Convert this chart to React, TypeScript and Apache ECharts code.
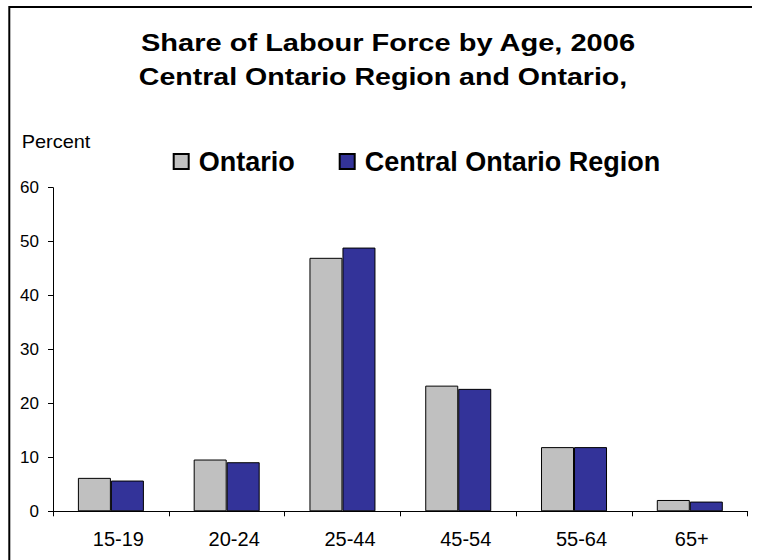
import React, { useEffect, useRef } from "react";
import * as echarts from "echarts";

const categories = ["15-19", "20-24", "25-44", "45-54", "55-64", "65+"];
const ontario = [6.2, 9.6, 47.0, 23.3, 11.9, 2.1];
const central = [5.7, 9.1, 48.9, 22.7, 11.9, 1.8];
const seriesNames = ["Ontario", "Central Ontario Region"];
const titleLines = ["Share of Labour Force by Age, 2006", "Central Ontario Region and Ontario,"];
const yAxisName = "Percent";

export default function App() {
  const ref = useRef<HTMLDivElement>(null);
  useEffect(() => {
    if (!ref.current) return;
    const chart = echarts.init(ref.current, null, { renderer: "svg" });
    const font = '"Liberation Sans", Arial, sans-serif';
    chart.setOption({
      animation: false,
      backgroundColor: "#ffffff",
      textStyle: { fontFamily: font, color: "#000" },
      graphic: [
        {
          type: "polyline",
          shape: { points: [[9.3, 560], [9.3, 7], [752, 7]] },
          style: { fill: "none", stroke: "#000", lineWidth: 2 },
          silent: true,
        },
        {
          type: "text",
          x: 388,
          y: 43,
          scaleX: 1.21,
          style: {
            text: titleLines[0],
            font: `bold 24px ${font}`,
            fill: "#000",
            align: "center",
            verticalAlign: "middle",
          },
        },
        {
          type: "text",
          x: 383,
          y: 76.4,
          scaleX: 1.19,
          style: {
            text: titleLines[1],
            font: `bold 24px ${font}`,
            fill: "#000",
            align: "center",
            verticalAlign: "middle",
          },
        },
        {
          type: "text",
          x: 21.7,
          y: 141.6,
          scaleX: 1.05,
          style: {
            text: yAxisName,
            font: `normal 19px ${font}`,
            fill: "#000",
            align: "left",
            verticalAlign: "middle",
          },
        },
      ],
      legend: {
        left: 172.7,
        top: 146.5,
        padding: 0,
        itemWidth: 15,
        itemHeight: 15,
        itemGap: 44,
        icon: "rect",
        textStyle: {
          fontFamily: font,
          fontSize: 27,
          fontWeight: "bold",
          color: "#000",
          lineHeight: 30,
          padding: [0, 0, 0, 5],
        },
        data: seriesNames,
      },
      grid: { left: 53, right: 9.3, top: 187.7, bottom: 48.7, containLabel: false },
      xAxis: {
        type: "category",
        data: categories,
        axisLine: { lineStyle: { color: "#000", width: 1 } },
        axisTick: { show: true, length: 5, lineStyle: { color: "#000" } },
        axisLabel: {
          color: "#000",
          fontSize: 20,
          margin: 18,
          fontFamily: font,
          formatter: (v: string) => (v === "65+" ? `{b|${v}}` : `{a|${v}}`),
          rich: {
            a: { fontSize: 20, fontFamily: font, color: "#000", padding: [0, 0, 0, 15] },
            b: { fontSize: 20, fontFamily: font, color: "#000", padding: [0, 0, 0, 4] },
          },
        },
      },
      yAxis: {
        type: "value",
        min: 0,
        max: 60,
        interval: 10,
        axisLine: { show: true, lineStyle: { color: "#000", width: 1 } },
        axisTick: { show: true, length: 5, lineStyle: { color: "#000" } },
        axisLabel: { color: "#000", fontSize: 17, margin: 14, fontFamily: font },
        splitLine: { show: false },
      },
      series: [
        {
          name: seriesNames[0],
          type: "bar",
          data: ontario,
          barWidth: 33,
          barGap: "0%",
          itemStyle: { color: "#C0C0C0", borderColor: "#000", borderWidth: 1 },
        },
        {
          name: seriesNames[1],
          type: "bar",
          data: central,
          barWidth: 33,
          barGap: "0%",
          itemStyle: { color: "#333399", borderColor: "#000", borderWidth: 1 },
        },
      ],
    });
    return () => chart.dispose();
  }, []);
  return (
    <div
      ref={ref}
      style={{ position: "fixed", left: 0, top: 0, width: 757, height: 560 }}
    />
  );
}
